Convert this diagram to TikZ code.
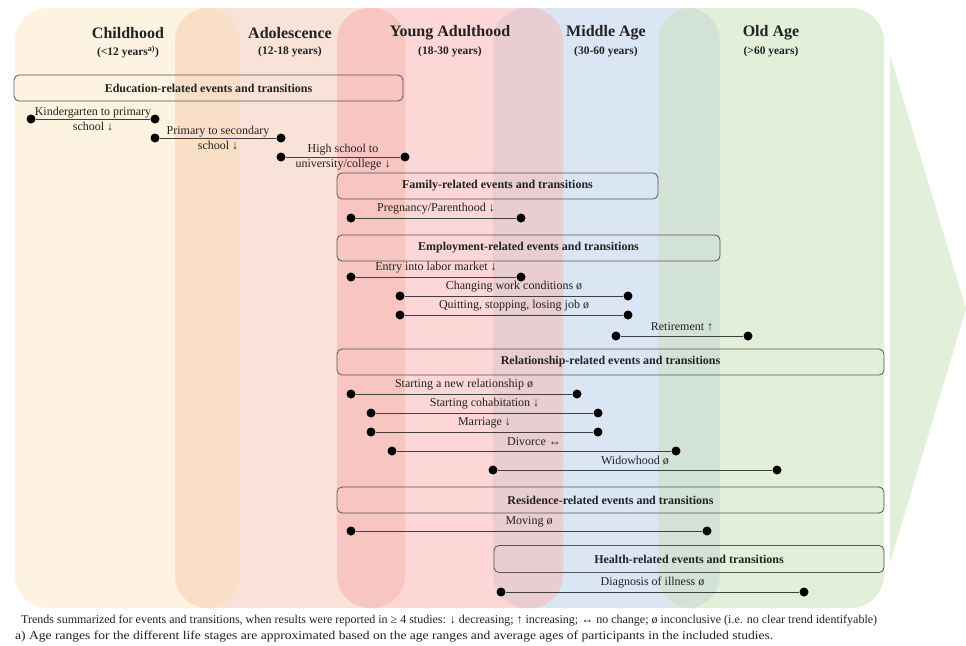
\documentclass[tikz,border=0pt]{standalone}
\usepackage{fontspec}
\setmainfont{Liberation Serif}
\definecolor{cchild}{HTML}{FDF3E0}
\definecolor{cadol}{HTML}{F9E2D8}
\definecolor{cya}{HTML}{FDD6D6}
\definecolor{cmid}{HTML}{DAE6F3}
\definecolor{cold}{HTML}{E2EFD9}
\definecolor{ochad}{HTML}{F9DFC5}
\definecolor{oadya}{HTML}{F7C6C1}
\definecolor{oyami}{HTML}{E9CDD3}
\definecolor{omiol}{HTML}{D3E2D6}
\definecolor{boxc}{HTML}{555555}
\definecolor{linec}{HTML}{404040}
\definecolor{textc}{HTML}{222222}
\newcommand\evt[5]{%
  \node[dotn] (#1a) at (#2,#4) {};
  \node[dotn] (#1b) at (#3,#4) {};
  \draw[evl] (#1a) -- (#1b);
  \node[lbl] (#1t) at ({(#2+#3)/2},{#4-9}) {#5};}
\newcommand\evtt[5]{%
  \node[dotn] (#1a) at (#2,#4) {};
  \node[dotn] (#1b) at (#3,#4) {};
  \draw[evl] (#1a) -- (#1b);
  \node[lbl,align=center] (#1t) at ({(#2+#3)/2},{#4+0.5}) {#5};}
\begin{document}
\begin{tikzpicture}[x=1pt,y=-1pt,
  dotn/.style={circle,fill=black,inner sep=0pt,minimum size=9pt},
  evl/.style={draw=linec,line width=0.95pt},
  lbl/.style={inner sep=0pt,font=\fontsize{12}{15}\selectfont,text=textc},
  grp/.style={draw=boxc,line width=0.8pt,rounded corners=5pt,inner sep=0pt,
    font=\bfseries\fontsize{12}{14}\selectfont,text=textc},
  hd/.style={inner sep=0pt,font=\bfseries\fontsize{16}{18}\selectfont,text=textc},
  sub/.style={inner sep=0pt,font=\bfseries\fontsize{11.5}{13}\selectfont,text=textc},
  foot/.style={inner sep=0pt,anchor=west,font=\fontsize{12}{14}\selectfont,text=textc},
  colr/.style={rounded corners=33pt}]
\useasboundingbox (0,0) rectangle (966,645);
\fill[white] (0,0) rectangle (966,645);
% columns
\fill[cchild,colr] (15,8) rectangle (240,608);
\fill[cadol,colr] (175,8) rectangle (405,608);
\fill[cya,colr] (337,8) rectangle (563,608);
\fill[cmid,colr] (493,8) rectangle (720,608);
\fill[cold,colr] (658,8) rectangle (884,608);
% overlaps
\begin{scope}
  \clip[colr] (15,8) rectangle (240,608);
  \fill[ochad,colr] (175,8) rectangle (405,608);
\end{scope}
\begin{scope}
  \clip[colr] (175,8) rectangle (405,608);
  \fill[oadya,colr] (337,8) rectangle (563,608);
\end{scope}
\begin{scope}
  \clip[colr] (337,8) rectangle (563,608);
  \fill[oyami,colr] (493,8) rectangle (720,608);
\end{scope}
\begin{scope}
  \clip[colr] (493,8) rectangle (720,608);
  \fill[omiol,colr] (658,8) rectangle (884,608);
\end{scope}
% arrow
\fill[cold] (890,55) -- (966,309) -- (890,563) -- cycle;
% headers
\node[hd] (h1) at (128,33) {Childhood};
\node[sub] (s1) at (128,52) {(<12 years\textsuperscript{a)})};
\node[hd] (h2) at (290,33) {Adolescence};
\node[sub] (s2) at (290,52) {(12-18 years)};
\node[hd] (h3) at (450,33) {Young Adulthood};
\node[sub] (s3) at (450,52) {(18-30 years)};
\node[hd] (h4) at (606,33) {Middle Age};
\node[sub] (s4) at (606,52) {(30-60 years)};
\node[hd] (h5) at (771,33) {Old Age};
\node[sub] (s5) at (771,52) {(>60 years)};
% group boxes
\node[grp,minimum width=389pt,minimum height=26pt] (edu) at (208.5,88) {Education-related events and transitions};
\node[grp,minimum width=321pt,minimum height=26pt] (fam) at (497.5,186) {Family-related events and transitions};
\node[grp,minimum width=383pt,minimum height=26pt] (emp) at (528.5,248) {Employment-related events and transitions};
\node[grp,minimum width=547pt,minimum height=26pt] (rel) at (610.5,362) {Relationship-related events and transitions};
\node[grp,minimum width=547pt,minimum height=26pt] (res) at (610.5,500) {Residence-related events and transitions};
\node[grp,minimum width=390pt,minimum height=27pt] (hea) at (689,559) {Health-related events and transitions};
% events
\evtt{kg}{31}{155}{119}{Kindergarten to primary\\school ↓}
\evtt{ps}{155}{281}{138}{Primary to secondary\\school ↓}
\evtt{hs}{281}{405}{157}{High school to\\university/college ↓}
\evt{preg}{351}{521}{218}{Pregnancy/Parenthood ↓}
\evt{entry}{351}{521}{277}{Entry into labor market ↓}
\evt{chg}{400}{628}{296}{Changing work conditions ø}
\evt{quit}{400}{628}{315}{Quitting, stopping, losing job ø}
\evt{ret}{616}{748}{336}{Retirement ↑}
\evt{newrel}{351}{577}{394}{Starting a new relationship ø}
\evt{cohab}{371}{598}{413}{Starting cohabitation ↓}
\evt{marr}{371}{598}{432}{Marriage ↓}
\evt{div}{392}{676}{451}{Divorce ↔}
\evt{wid}{493}{777}{470}{Widowhood ø}
\evt{mov}{351}{707}{531}{Moving ø}
\evt{diag}{501}{804}{592}{Diagnosis of illness ø}
% footer
\node[foot] (f1) at (21,621) {Trends summarized for events and transitions, when results were reported in ≥ 4 studies: ↓ decreasing; ↑ increasing; ↔ no change; ø inconclusive (i.e. no clear trend identifyable)};
\node[foot] (f2) at (15,637) {\scalebox{1.13}[1]{a) Age ranges for the different life stages are approximated based on the age ranges and average ages of participants in the included studies.}};
\end{tikzpicture}
\end{document}
